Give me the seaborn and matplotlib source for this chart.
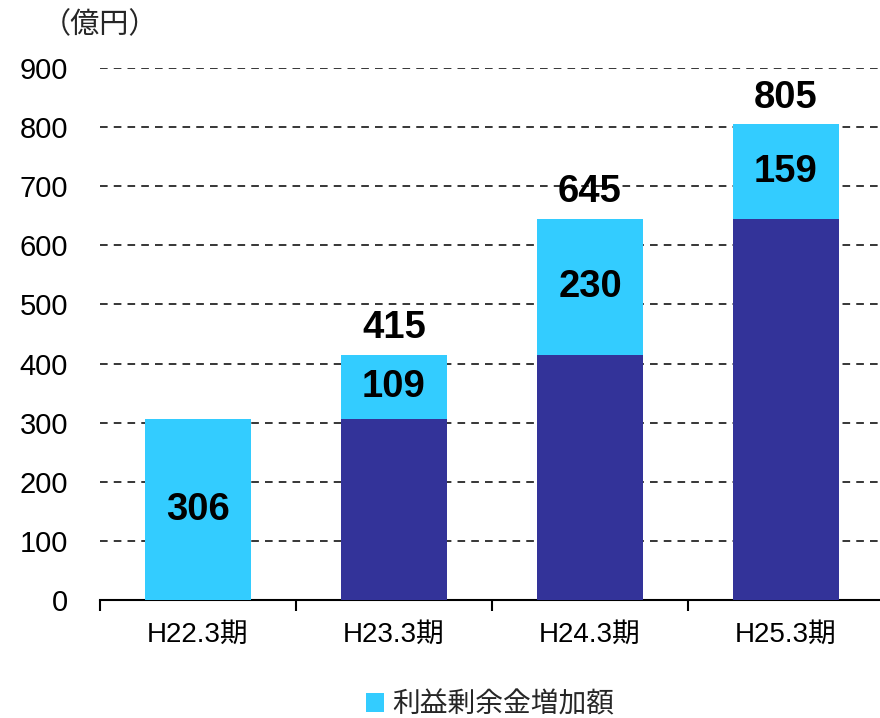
import matplotlib
matplotlib.use("Agg")
import matplotlib.pyplot as plt
import seaborn as sns
import pandas as pd
import numpy as np
from matplotlib.patches import Patch

categories = ["H22.3期", "H23.3期", "H24.3期", "H25.3期"]
increase = [306, 109, 230, 159]
base = [0, 306, 415, 645]
total = [306, 415, 645, 805]
show_total = [False, True, True, True]
legend_label = "利益剰余金増加額"
unit_label = "（億円）"

sns.set_theme(style="white")
plt.rcParams["font.family"] = ["Liberation Sans", "Noto Sans CJK JP", "DejaVu Sans"]

CYAN = "#33CCFF"
NAVY = "#333399"

df = pd.DataFrame({"cat": categories, "inc": increase, "base": base, "total": total})

fig = plt.figure(figsize=(8.8, 7.18), dpi=100)
ax = fig.add_axes([100/880, (718-600)/718, 784/880, (600-68)/718])

sns.barplot(data=df, x="cat", y="total", color=CYAN, saturation=1, width=0.545,
            linewidth=0, edgecolor="none", ax=ax, zorder=3)
sns.barplot(data=df, x="cat", y="base", color=NAVY, saturation=1, width=0.545,
            linewidth=0, edgecolor="none", ax=ax, zorder=3)

ax.set_ylim(0, 900)
ax.set_xlim(-0.5, 3.5)
ax.set_yticks(range(0, 901, 100))
for v in range(100, 901, 100):
    ax.axhline(v, color="black", lw=1.1, ls=(0, (5, 4)), zorder=1)

for i, (b, inc, t, st) in enumerate(zip(base, increase, total, show_total)):
    ax.text(i, b + inc / 2, str(inc), ha="center", va="center",
            fontsize=27.5, fontweight="bold", color="black", zorder=5)
    if st:
        ax.annotate(str(t), (i, t), xytext=(0, 19), textcoords="offset points",
                    ha="center", va="center", fontsize=27.5, fontweight="bold",
                    color="black", zorder=5)

for s in ["top", "right", "left"]:
    ax.spines[s].set_visible(False)
ax.spines["bottom"].set_color("black")
ax.spines["bottom"].set_linewidth(1.5)

ax.set_xlabel("")
ax.set_ylabel("")
ax.tick_params(axis="y", left=False, length=0, pad=23, labelsize=21, labelcolor="black")
ax.tick_params(axis="x", which="major", bottom=False, length=0, pad=16, labelsize=20,
               labelcolor="black")
ax.set_xticks(np.arange(-0.5, 3.6, 1.0), minor=True)
ax.tick_params(axis="x", which="minor", bottom=True, length=8, width=1.5,
               color="black", direction="out")
ax.grid(False)

fig.text(100/880, 1 - 25/718, unit_label, ha="center", va="center", fontsize=21,
         family=["Noto Sans CJK JP", "DejaVu Sans"])

handles = [Patch(facecolor=CYAN, edgecolor="none", label=legend_label)]
fig.legend(handles=handles, loc="center", bbox_to_anchor=(490/880, 1 - 704/718),
           frameon=False, handlelength=0.65, handleheight=0.65,
           handletextpad=0.3, prop={"family": ["Noto Sans CJK JP"], "size": 20})

fig.savefig("out.png", dpi=100)
